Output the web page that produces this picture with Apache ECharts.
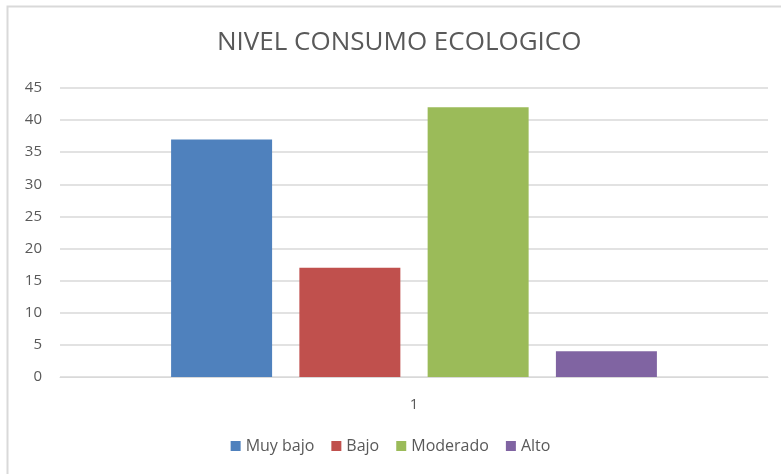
<!DOCTYPE html>
<html>
<head>
    <meta charset="UTF-8">
    <title>NIVEL CONSUMO ECOLOGICO</title>
    <script src="https://cdn.jsdelivr.net/npm/echarts@6/dist/echarts.min.js"></script>
    <style>
        html, body {margin: 0; padding: 0; background: #fff;}
        #main {width: 781px; height: 474px;}
    </style>
</head>
<body>
<div id="main"></div>
<script>
    // datos del grafico
    var categorias = ['1'];
    var series_nombres = ['Muy bajo', 'Bajo', 'Moderado', 'Alto'];
    var muyBajo = [37];
    var bajo = [17];
    var moderado = [42];
    var alto = [4];
    var colores = ['#4F81BD', '#C0504D', '#9BBB59', '#8064A2'];

    var valores = [muyBajo, bajo, moderado, alto];
    var fuente = '"Open Sans", "Liberation Sans", sans-serif';

    var myChart = echarts.init(document.getElementById('main'));

    var series = [];
    for (var i = 0; i < series_nombres.length; i++) {
        series.push({
            name: series_nombres[i],
            type: 'bar',
            data: valores[i],
            barWidth: 101,
            barGap: '27%',
            itemStyle: {color: colores[i]}
        });
    }

    myChart.setOption({
        animation: false,
        textStyle: {fontFamily: fuente},
        graphic: [{
            type: 'rect',
            shape: {x: 7.5, y: 6.5, width: 800, height: 500},
            style: {fill: 'none', stroke: '#d9d9d9', lineWidth: 2},
            silent: true
        }],
        title: {
            text: 'NIVEL CONSUMO ECOLOGICO',
            left: 212,
            top: 25,
            textStyle: {fontFamily: fuente, fontSize: 26, fontWeight: 'normal', color: '#595959'}
        },
        legend: {
            data: series_nombres,
            bottom: 15,
            left: 'center',
            itemWidth: 10,
            itemHeight: 10,
            itemGap: 17,
            icon: 'rect',
            textStyle: {fontFamily: fuente, fontSize: 16, color: '#595959'}
        },
        grid: {left: 60, right: 13, top: 88, bottom: 97},
        xAxis: {
            type: 'category',
            data: categorias,
            axisTick: {show: false},
            axisLine: {lineStyle: {color: '#d9d9d9'}},
            axisLabel: {color: '#595959', fontSize: 15, margin: 20}
        },
        yAxis: {
            type: 'value',
            min: 0,
            max: 45,
            interval: 5,
            axisLine: {show: false},
            axisTick: {show: false},
            splitLine: {lineStyle: {color: '#d9d9d9', width: 1.5}},
            axisLabel: {color: '#595959', fontSize: 15, margin: 18}
        },
        series: series
    });
</script>
</body>
</html>
